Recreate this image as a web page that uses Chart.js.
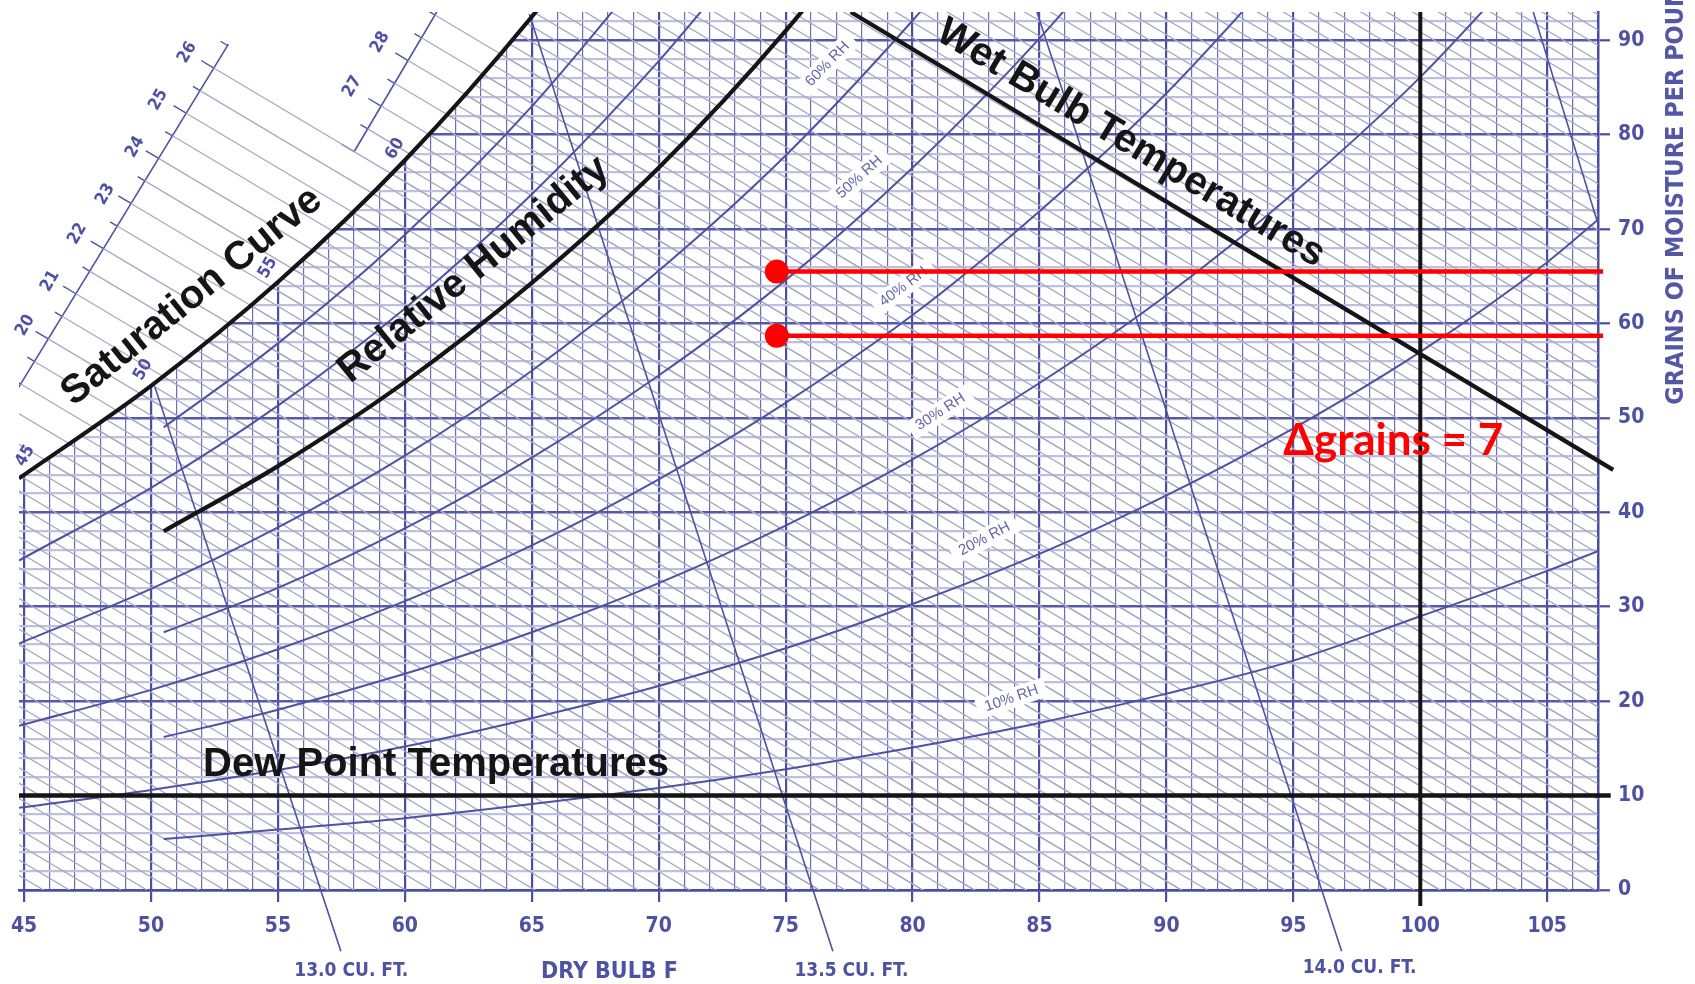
<!DOCTYPE html>
<html lang="en">
<head>
<meta charset="UTF-8">
<title>Psychrometric chart</title>
<script src="https://cdn.jsdelivr.net/npm/chart.js@4.4.0/dist/chart.umd.min.js"></script>
<style>
  html, body { margin: 0; padding: 0; background: #fff; }
  canvas { display: block; }
</style>
</head>
<body>
<canvas id="psyChart" width="1695" height="984"></canvas>
<script>
var dryBulbA = [44.8, 50, 55, 60, 65, 70, 75, 80, 85, 90, 95, 100, 105, 107]; // curves that start at the left edge
var dryBulbB = [50.5, 55, 60, 65, 70, 75, 80, 85, 90, 95, 100, 105, 107];     // curves that start at 50.5 F

// grains of moisture per pound
var saturation = [43.6, 53.4, 64.4, 77.3, 92.5, 110];
var rh90 = [49.0, 57.9, 69.4, 83.0, 99];
var rh80 = [34.9, 42.6, 51.3, 61.6, 73.7, 87.8, 104];
var rh70 = [38.0, 44.9, 53.8, 64.3, 76.5, 91.0, 108];
var rh60 = [26.1, 31.9, 38.4, 46.0, 55.0, 65.6, 77.8, 92.1, 108];
var rh50 = [27.3, 32.0, 38.3, 45.8, 54.5, 64.6, 76.5, 90.2, 106];
var rh40 = [17.4, 21.2, 25.5, 30.6, 36.5, 43.5, 51.6, 60.9, 71.9, 84.4, 99];
var rh30 = [16.2, 19.1, 22.9, 27.3, 32.5, 38.6, 45.6, 53.7, 63.0, 73.8, 86.1, 100.6];
var rh20 = [8.7, 10.6, 12.7, 15.2, 18.2, 21.6, 25.6, 30.3, 35.6, 41.8, 48.9, 57.0, 66.5, 71.0];
var rh10 = [5.4, 6.4, 7.6, 9.1, 10.8, 12.8, 15.1, 17.7, 20.8, 24.3, 29.0, 33.8, 35.9];

// specific volume lines (cu. ft. per pound), ends
var vol130 = [{x: 50.15, y: 53.3}, {x: 57.48, y: -6.5}];
var vol135 = [{x: 64.9, y: 92.8}, {x: 76.86, y: -6.5}];
var vol140 = [{x: 84.9, y: 93.0}, {x: 96.9, y: -6.5}];
var vol145 = [{x: 104.45, y: 93.0}, {x: 106.97, y: 70.8}];

// heavy black reference lines
var dewPointLine = [{x: 44.8, y: 10}, {x: 107.5, y: 10}];
var dryBulb100 = [{x: 100, y: 93}, {x: 100, y: -1.7}];
var wetBulbLine = [{x: 77.56, y: 93}, {x: 107.6, y: 44.5}];

// red annotation
var redHigh = [{x: 74.65, y: 65.5}, {x: 107.2, y: 65.5}];
var redLow = [{x: 74.65, y: 58.7}, {x: 107.2, y: 58.7}];

// enthalpy scale (upper left)
var diagC0 = 131.9, diagStep = 1.63, diagSlope = 1.6; // lines of constant grains + 1.6*F
var enthalpyScales = [
  {from: {x: 44.73, y: 53.0}, to: {x: 53.05, y: 89.6}, first: -2, last: 13, lineLast: 12},
  {from: {x: 58.0, y: 78.2}, to: {x: 61.3, y: 93.2}, first: 12, last: 18, lineLast: 18}
];
var enthalpyLabels = [
  ['20', 45.05, 59.8], ['21', 46.03, 64.5], ['22', 47.10, 69.5], ['23', 48.20, 73.7],
  ['24', 49.38, 78.7], ['25', 50.29, 83.7], ['26', 51.43, 88.7], ['27', 57.93, 85.1], ['28', 59.03, 89.8]
];
var satLabels = [['45', 45.05, 46.0], ['50', 49.69, 55.1], ['55', 54.61, 65.9], ['60', 59.62, 78.5]];
var rhLabels = [
  ['60% RH', 76.65, 87.5, -46], ['50% RH', 77.91, 75.5, -42], ['40% RH', 79.64, 63.9, -37],
  ['30% RH', 81.10, 50.65, -33], ['20% RH', 82.83, 37.2, -28], ['10% RH', 83.90, 20.3, -19]
];

var BLUE = '#4e52a3';
var BLUE_MAJOR = '#4a4e9e';
var BLUE_MINOR = '#6b6eb5';
var LAVENDER = '#bfc0e0';
var DIAG = '#a7a8c8';
var INK = '#151515';
var CONDENSED = "'DejaVu Sans Condensed', 'Liberation Sans Narrow', sans-serif";

function pairs(xs, ys) {
  return ys.map(function (y, i) { return {x: xs[i], y: y}; });
}
function line(data, color, width, order, extra) {
  var d = {data: data, showLine: true, borderColor: color, borderWidth: width, pointRadius: 0, order: order, fill: false};
  for (var k in extra) d[k] = extra[k];
  return d;
}
var GAP = {x: NaN, y: NaN};

// diagonal grid family
var gridDiag = [];
for (var i = -38; i <= 82; i++) {
  var c = diagC0 + diagStep * i;
  gridDiag.push({x: (c - 96) / diagSlope, y: 96}, {x: (c + 3) / diagSlope, y: -3}, GAP);
}

// lines running out to the enthalpy scales, plus the scale ticks
function cOf(p) { return p.y + diagSlope * p.x; }
var extLines = [], scaleTicks = [], scaleSpines = [];
enthalpyScales.forEach(function (sc) {
  scaleSpines.push(sc.from, sc.to, GAP);
  var cA = cOf(sc.from), cB = cOf(sc.to);
  for (var j = sc.first; j <= sc.last; j++) {
    var c = diagC0 + 2 * diagStep * j;
    var s = Math.max(0, Math.min(1, (c - cA) / (cB - cA)));
    var p = {x: sc.from.x + s * (sc.to.x - sc.from.x), y: sc.from.y + s * (sc.to.y - sc.from.y)};
    var len = (j % 2 === 0) ? 0.5 : 0.28;
    scaleTicks.push(p, {x: p.x - len, y: p.y + diagSlope * len}, GAP);
    if (j <= sc.lineLast) extLines.push(p, {x: (c + 3) / diagSlope, y: -3}, GAP);
  }
});
for (var j = -4; j <= -3; j++) {
  var c2 = diagC0 + 2 * diagStep * j;
  extLines.push({x: 44.0, y: c2 - diagSlope * 44.0}, {x: (c2 + 3) / diagSlope, y: -3}, GAP);
}

var smooth = {cubicInterpolationMode: 'monotone'};
var belowAxis = {clip: {left: 0, top: 0, right: 0, bottom: 120}};
var pastRight = {clip: {left: 0, top: 0, right: 30, bottom: 0}};

var datasets = [
  line(gridDiag, DIAG, 1.3, 100),
  line(pairs(dryBulbA, saturation), 'rgba(0,0,0,0)', 1, 90, {fill: 'end', backgroundColor: '#ffffff', cubicInterpolationMode: 'monotone'}),
  line(extLines, DIAG, 1.3, 80),
  line(scaleSpines, BLUE, 1.6, 80),
  line(scaleTicks, BLUE, 1.4, 80),

  line(pairs(dryBulbB, rh90), BLUE, 2, 50, smooth),
  line(pairs(dryBulbA, rh80), BLUE, 2, 50, smooth),
  line(pairs(dryBulbA, rh60), BLUE, 2, 50, smooth),
  line(pairs(dryBulbB, rh50), BLUE, 2, 50, smooth),
  line(pairs(dryBulbA, rh40), BLUE, 2, 50, smooth),
  line(pairs(dryBulbB, rh30), BLUE, 2, 50, smooth),
  line(pairs(dryBulbA, rh20), BLUE, 2, 50, smooth),
  line(pairs(dryBulbB, rh10), BLUE, 2, 50, smooth),
  line(vol130, BLUE, 1.6, 50, belowAxis),
  line(vol135, BLUE, 1.6, 50, belowAxis),
  line(vol140, BLUE, 1.6, 50, belowAxis),
  line(vol145, BLUE, 1.6, 50),

  line(pairs(dryBulbA, saturation), INK, 4.2, 20, smooth),
  line(pairs(dryBulbB, rh70), INK, 4.2, 20, smooth),
  line(dewPointLine, INK, 4.5, 20, pastRight),
  line(dryBulb100, INK, 4, 20, belowAxis),
  line(wetBulbLine, INK, 4.2, 20, pastRight),

  line(redHigh, '#ff0000', 4.5, 1, {clip: {left: 0, top: 0, right: 30, bottom: 0}, pointRadius: function (ctx) { return ctx.dataIndex === 0 ? 12 : 0; }, pointBackgroundColor: '#ff0000', pointBorderWidth: 0}),
  line(redLow, '#ff0000', 4.5, 1, {clip: {left: 0, top: 0, right: 30, bottom: 0}, pointRadius: function (ctx) { return ctx.dataIndex === 0 ? 12 : 0; }, pointBackgroundColor: '#ff0000', pointBorderWidth: 0})
];

function put(chart, txt, T, W, deg, font, color, align, base, boxed) {
  var c = chart.ctx, xs = chart.scales.x, ys = chart.scales.y;
  c.save();
  c.translate(xs.getPixelForValue(T), ys.getPixelForValue(W));
  c.rotate(deg * Math.PI / 180);
  c.font = font;
  c.textAlign = align || 'left';
  c.textBaseline = base || 'alphabetic';
  if (boxed) {
    var w = c.measureText(txt).width;
    c.fillStyle = '#ffffff';
    c.fillRect(-w / 2 - 8, -10, w + 16, 20);
  }
  c.fillStyle = color;
  c.fillText(txt, 0, 0);
  c.restore();
}

var psyLabels = {
  id: 'psyLabels',
  beforeDatasetsDraw: function (chart) { chart.$rhDone = false; },
  beforeDatasetDraw: function (chart, args) {
    if (chart.$rhDone || chart.data.datasets[args.index].order !== 50) return;
    chart.$rhDone = true;
    rhLabels.forEach(function (l) {
      put(chart, l[0], l[1], l[2], l[3], '15px "Liberation Sans", sans-serif', '#6366a8', 'center', 'middle', true);
    });
  },
  afterDatasetsDraw: function (chart) {
    var big = 'bold 40px "Liberation Sans", Arial, sans-serif';
    put(chart, 'Saturation Curve', 46.95, 51.2, -39, big, INK);
    put(chart, 'Relative Humidity', 57.85, 53.6, -39, big, INK);
    put(chart, 'Wet Bulb Temperatures', 80.85, 90.2, 31, big, INK);
    put(chart, 'Dew Point Temperatures', 52.05, 12.1, 0, big, INK);

    var small = 'bold 17px ' + CONDENSED;
    enthalpyLabels.concat(satLabels).forEach(function (l) {
      put(chart, l[0], l[1], l[2], -60, small, BLUE, 'center', 'middle');
    });

    var foot = 'bold 19px ' + CONDENSED;
    put(chart, '13.0 CU. FT.', 57.89, -8.6, 0, foot, BLUE, 'center', 'middle');
    put(chart, 'DRY BULB F', 68.06, -8.7, 0, 'bold 23px ' + CONDENSED, BLUE, 'center', 'middle');
    put(chart, '13.5 CU. FT.', 77.59, -8.6, 0, foot, BLUE, 'center', 'middle');
    put(chart, '14.0 CU. FT.', 97.61, -8.3, 0, foot, BLUE, 'center', 'middle');
    put(chart, 'GRAINS OF MOISTURE PER POUND', 110.1, 51.4, -90, 'bold 25px ' + CONDENSED, '#5357a5', 'left', 'middle');

    put(chart, '\u0394grains = 7', 94.6, 46.1, 0, 'bold 44px Lato, "Open Sans", sans-serif', '#ff0000');
  }
};

function isMajor(ctx, every) {
  return ctx.tick && Math.round(ctx.tick.value) % every === 0 && Math.abs(ctx.tick.value - Math.round(ctx.tick.value)) < 1e-6;
}

new Chart(document.getElementById('psyChart'), {
  type: 'scatter',
  data: {datasets: datasets},
  plugins: [psyLabels],
  options: {
    responsive: false,
    animation: false,
    layout: {padding: {left: 19, top: 7, right: 0, bottom: 0}},
    plugins: {legend: {display: false}, tooltip: {enabled: false}},
    scales: {
      x: {
        type: 'linear', min: 44.8, max: 107,
        afterFit: function (s) { s.height = 94; s.paddingLeft = 0; s.paddingRight = 0; },
        ticks: {
          stepSize: 1, autoSkip: false, includeBounds: false, maxRotation: 0, minRotation: 0, padding: 12,
          color: BLUE, font: {family: CONDENSED, size: 21, weight: 'bold'},
          callback: function (v) { return v % 5 === 0 ? String(v) : ''; }
        },
        grid: {
          color: function (ctx) { return isMajor(ctx, 5) ? BLUE_MAJOR : BLUE_MINOR; },
          lineWidth: function (ctx) { return isMajor(ctx, 5) ? 2.2 : 1.2; },
          tickLength: 12,
          tickColor: function (ctx) { return isMajor(ctx, 5) ? BLUE_MAJOR : 'rgba(0,0,0,0)'; },
          tickWidth: 2.2
        },
        border: {display: true, color: BLUE_MAJOR, width: 2.5}
      },
      y: {
        type: 'linear', position: 'right', min: 0, max: 93,
        afterFit: function (s) { s.width = 97; s.paddingTop = 0; s.paddingBottom = 0; },
        ticks: {
          stepSize: 2, autoSkip: false, includeBounds: false, padding: 8,
          color: BLUE, font: {family: CONDENSED, size: 21, weight: 'bold'},
          callback: function (v) { return v % 10 === 0 ? String(v) : ''; }
        },
        grid: {
          color: function (ctx) { return isMajor(ctx, 10) ? '#5659a8' : LAVENDER; },
          lineWidth: function (ctx) { return isMajor(ctx, 10) ? 2.6 : 2.2; },
          tickLength: 12,
          tickColor: function (ctx) { return isMajor(ctx, 10) ? BLUE_MAJOR : 'rgba(0,0,0,0)'; },
          tickWidth: 2.2
        },
        border: {display: true, color: BLUE_MAJOR, width: 2.5}
      }
    }
  }
});
</script>
</body>
</html>
